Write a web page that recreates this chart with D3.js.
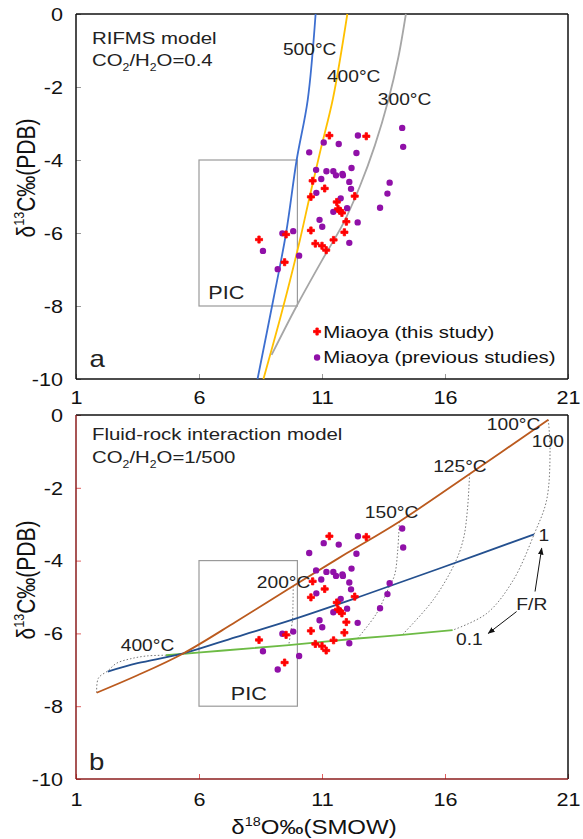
<!DOCTYPE html>
<html>
<head>
<meta charset="utf-8">
<script src="https://cdnjs.cloudflare.com/ajax/libs/d3/7.8.5/d3.min.js"></script>
<style>
  body { margin: 0; background: #fff; }
  svg { display: block; font-family: "Liberation Sans", Arial, sans-serif; }
</style>
</head>
<body>
<div id="chart"></div>
<script>
// Miaoya samples, [d18O, d13C]
const thisStudy = [
    [8.44,-6.18],[9.54,-6.04],[9.48,-6.80],[11.30,-3.33],[12.80,-3.35],[10.62,-4.57],
    [11.11,-4.78],[10.55,-5.01],[12.33,-4.99],[11.60,-5.15],[11.65,-5.34],[11.73,-5.39],
    [11.81,-5.45],[11.99,-5.69],[10.55,-5.93],[11.91,-5.98],[10.73,-6.29],[11.00,-6.35],
    [11.17,-6.47],[11.47,-6.19]
];
const prevStudies = [
    [8.60,-6.49],[9.20,-6.99],[9.39,-6.01],[9.83,-5.95],[10.07,-6.62],[10.48,-3.79],
    [11.07,-3.52],[11.68,-3.56],[12.46,-3.33],[12.40,-3.81],[14.26,-3.12],[14.30,-3.64],
    [10.76,-4.27],[10.97,-4.52],[11.18,-4.31],[11.46,-4.31],[11.57,-4.42],[11.83,-4.38],
    [11.85,-4.42],[12.20,-4.22],[12.11,-4.60],[12.18,-4.79],[10.77,-4.90],[11.76,-5.05],
    [12.02,-5.32],[11.46,-5.42],[10.90,-5.64],[11.01,-5.83],[12.45,-5.71],[12.11,-6.27],
    [13.75,-4.62],[13.66,-4.92],[13.36,-5.31]
];

// (a) RIFMS model curves
const rifms500 = [[8.38,-10],[9.02,-7.83],[9.54,-6.0],[9.97,-4.0],[10.42,-2.35],[10.74,0]];
const rifms400 = [[8.62,-10],[9.29,-8.36],[9.7,-7.3],[10.1,-6.2],[10.5,-5.0],[10.95,-3.7],[11.45,-2.3],[12.03,0]];
const rifms300 = [[8.95,-9.34],[9.97,-8.0],[11.0,-6.75],[11.87,-5.73],[12.54,-4.72],[13.15,-3.6],[13.7,-2.35],[14.1,-1.2],[14.41,0]];

// (b) fluid-rock interaction, F/R = 100, 1, 0.1
const fr100 = [[1.84,-7.63],[3.5,-7.15],[5.36,-6.55],[7.5,-5.68],[9.83,-4.7],[12.0,-3.8],[14.14,-2.93],[17.0,-1.62],[20.2,-0.13]];
const fr1 = [[2.29,-7.05],[3.5,-6.82],[5.36,-6.55],[7.5,-6.1],[9.8,-5.62],[12.5,-5.0],[15.8,-4.21],[19.62,-3.28]];
const fr01 = [[4.66,-6.6],[7.0,-6.47],[9.65,-6.32],[12.44,-6.14],[14.26,-6.04],[16.31,-5.91]];

// isotherms (dotted)
const iso400 = [[1.84,-7.63],[1.91,-7.23],[2.29,-7.03],[2.65,-6.82],[3.2,-6.70],[3.87,-6.62],[4.66,-6.6]];
const iso200 = [[9.83,-4.7],[9.82,-5.2],[9.8,-5.62],[9.72,-6.0],[9.65,-6.32]];
const iso150 = [[14.14,-2.93],[14.08,-3.7],[13.95,-4.4],[13.73,-4.72],[13.22,-5.45],[12.44,-6.14]];
const iso125 = [[17.0,-1.62],[16.91,-2.61],[16.75,-3.4],[16.4,-4.07],[15.52,-5.08],[14.26,-6.04]];
const iso100 = [[20.2,-0.13],[20.27,-0.96],[20.13,-2.34],[19.62,-3.28],[18.78,-4.53],[17.7,-5.45],[16.31,-5.91]];

const xTicks = [1, 6, 11, 16, 21];
const yTicks = [0, -2, -4, -6, -8, -10];

const width = 583, height = 839;
const left = 76, right = 568;

const svg = d3.select("#chart").append("svg")
    .attr("width", width)
    .attr("height", height);

svg.append("defs").append("marker")
    .attr("id", "arrow")
    .attr("viewBox", "0 0 10 10")
    .attr("refX", 9).attr("refY", 5)
    .attr("markerWidth", 7).attr("markerHeight", 7)
    .attr("orient", "auto")
    .append("path").attr("d", "M0,1 L10,5 L0,9 Z").attr("fill", "#111");

const x = d3.scaleLinear().domain([1, 21]).range([left, right]);
const yA = d3.scaleLinear().domain([-10, 0]).range([379, 14]);
const yB = d3.scaleLinear().domain([-10, 0]).range([779, 415]);

// text in the picture is stretched sideways, so every label gets scale(1.2,1)
const SX = 1.2;
function addText(px, py, parts, size, anchor, fill) {
    const t = svg.append("text")
        .attr("transform", `translate(${px},${py + size * 0.35}) scale(${SX},1)`)
        .attr("font-size", size)
        .attr("text-anchor", anchor || "start")
        .attr("fill", fill || "#222");
    addParts(t, parts, size);
    return t;
}
// plain strings, {sub:".."} or {sup:".."}; the shift is undone on the next piece
function addParts(t, parts, size) {
    let back = 0;
    parts.forEach(p => {
        const s = t.append("tspan");
        if (typeof p === "string") {
            s.text(p);
            if (back) s.attr("dy", back);
            back = 0;
        } else {
            const shift = p.sub ? size * 0.3 : -size * 0.42;
            s.attr("font-size", size * 0.6).attr("dy", shift + back).text(p.sub || p.sup);
            back = -shift;
        }
    });
}

const lineGen = (y) => d3.line()
    .x(d => x(d[0]))
    .y(d => y(d[1]))
    .curve(d3.curveCatmullRom);

function drawPanel(y, opt) {
    const g = svg.append("g");
    const top = y(0), bottom = y(-10);

    // ticks
    const xAxis = g.append("g")
        .attr("transform", `translate(0,${bottom})`)
        .call(d3.axisBottom(x).tickValues(xTicks).tickSize(-5).tickFormat(d => String(d)));
    const yAxis = g.append("g")
        .attr("transform", `translate(${left},0)`)
        .call(d3.axisLeft(y).tickValues(yTicks).tickSize(-5).tickFormat(d => String(d)));
    [xAxis, yAxis].forEach(a => {
        a.select(".domain").remove();
        a.selectAll(".tick line").attr("stroke", opt.tickColor).attr("stroke-width", 1);
        a.selectAll("text").attr("font-size", 18).attr("fill", "#111")
            .attr("font-family", "Liberation Sans, Arial, sans-serif");
    });
    xAxis.selectAll("text").attr("y", opt.xLabelOffset).attr("dy", "0.35em")
        .attr("transform", `scale(${SX},1)`);
    yAxis.selectAll("text").attr("x", -13 / SX).attr("dy", "0.35em")
        .attr("transform", `scale(${SX},1)`);

    // frame
    g.append("line").attr("x1", left).attr("x2", right).attr("y1", top).attr("y2", top)
        .attr("stroke", "#111").attr("stroke-width", 1.5);
    g.append("line").attr("x1", right).attr("x2", right).attr("y1", top).attr("y2", bottom)
        .attr("stroke", "#111").attr("stroke-width", 1.5);
    g.append("line").attr("x1", left).attr("x2", right).attr("y1", bottom).attr("y2", bottom)
        .attr("stroke", opt.axisColor).attr("stroke-width", 1.5);
    g.append("line").attr("x1", left).attr("x2", left).attr("y1", top).attr("y2", bottom)
        .attr("stroke", opt.axisColor).attr("stroke-width", 1.5);

    // PIC box
    g.append("rect")
        .attr("x", x(6)).attr("y", y(-4))
        .attr("width", x(10) - x(6)).attr("height", y(-8) - y(-4))
        .attr("fill", "none").attr("stroke", "#9a9a9a").attr("stroke-width", 1.2);

    // y axis title
    const yt = svg.append("text")
        .attr("transform", `translate(26,${opt.yTitle}) scale(${SX},1) rotate(-90)`)
        .attr("font-size", 21)
        .attr("text-anchor", "middle")
        .attr("dy", "0.35em")
        .attr("fill", "#111");
    addParts(yt, ["\u03b4", { sup: "13" }, "C\u2030(PDB)"], 21);
    return g;
}

function drawPoints(g, y) {
    g.selectAll(null).data(prevStudies).enter().append("path")
        .attr("d", d3.symbol(d3.symbolCircle, 32))
        .attr("transform", d => `translate(${x(d[0])},${y(d[1])})`)
        .attr("fill", "#9010a8");
    g.selectAll(null).data(thisStudy).enter().append("path")
        .attr("d", d3.symbol(d3.symbolCross, 28))
        .attr("transform", d => `translate(${x(d[0])},${y(d[1])})`)
        .attr("fill", "#ff0000")
        .attr("stroke", "#ff0000").attr("stroke-width", 0.8).attr("stroke-linejoin", "round");
}

// ---------- panel a ----------
const gA = drawPanel(yA, { tickColor: "#999", axisColor: "#111", xLabelOffset: 19, yTitle: 178 });
[[rifms500, "#3d6fd0"], [rifms400, "#ffc000"], [rifms300, "#a6a6a6"]].forEach(([d, c]) => {
    gA.append("path").datum(d).attr("d", lineGen(yA)).attr("fill", "none")
        .attr("stroke", c).attr("stroke-width", 1.8);
});
drawPoints(gA, yA);

addText(x(1.65), yA(-0.66), ["RIFMS model"], 17);
addText(x(1.65), yA(-1.25), ["CO", { sub: "2" }, "/H", { sub: "2" }, "O=0.4"], 17);
addText(x(9.41), yA(-0.98), ["500\u00b0C"], 16);
addText(x(11.2), yA(-1.70), ["400\u00b0C"], 16);
addText(x(13.27), yA(-2.34), ["300\u00b0C"], 16);
addText(x(6.38), yA(-7.63), ["PIC"], 18);
addText(x(1.55), yA(-9.44), ["a"], 23);

// legend
gA.append("path").attr("d", d3.symbol(d3.symbolCross, 28))
    .attr("transform", `translate(${x(10.8)},${yA(-8.70)})`).attr("fill", "#ff0000")
    .attr("stroke", "#ff0000").attr("stroke-width", 0.8).attr("stroke-linejoin", "round");
gA.append("path").attr("d", d3.symbol(d3.symbolCircle, 32))
    .attr("transform", `translate(${x(10.8)},${yA(-9.41)})`).attr("fill", "#9010a8");
addText(x(11.05), yA(-8.70), ["Miaoya (this study)"], 17, "start", "#111");
addText(x(11.05), yA(-9.41), ["Miaoya (previous studies)"], 17, "start", "#111");

// ---------- panel b ----------
const gB = drawPanel(yB, { tickColor: "#e06060", axisColor: "#8b1c1c", xLabelOffset: 21, yTitle: 580 });
[iso400, iso200, iso150, iso125, iso100].forEach(d => {
    gB.append("path").datum(d).attr("d", lineGen(yB)).attr("fill", "none")
        .attr("stroke", "#777").attr("stroke-width", 1).attr("stroke-dasharray", "1.5,2");
});
[[fr01, "#6dbb45"], [fr1, "#24508f"], [fr100, "#bb5a1e"]].forEach(([d, c]) => {
    gB.append("path").datum(d).attr("d", lineGen(yB)).attr("fill", "none")
        .attr("stroke", c).attr("stroke-width", 1.8);
});
drawPoints(gB, yB);

addText(x(1.65), yB(-0.53), ["Fluid-rock interaction model"], 17);
addText(x(1.65), yB(-1.15), ["CO", { sub: "2" }, "/H", { sub: "2" }, "O=1/500"], 17);
addText(x(17.7), yB(-0.27), ["100\u00b0C"], 16);
addText(x(19.53), yB(-0.73), ["100"], 16);
addText(x(15.52), yB(-1.4), ["125\u00b0C"], 16);
addText(x(12.74), yB(-2.68), ["150\u00b0C"], 16);
addText(x(8.35), yB(-4.59), ["200\u00b0C"], 16);
addText(x(2.82), yB(-6.33), ["400\u00b0C"], 16);
addText(x(19.8), yB(-3.3), ["1"], 16);
addText(x(16.45), yB(-6.16), ["0.1"], 16);
addText(x(18.9), yB(-5.19), ["F/R"], 16);
addText(x(7.29), yB(-7.65), ["PIC"], 18);
addText(x(1.53), yB(-9.52), ["b"], 23);

gB.append("line")
    .attr("x1", x(19.66)).attr("y1", yB(-4.85)).attr("x2", x(19.93)).attr("y2", yB(-3.66))
    .attr("stroke", "#111").attr("stroke-width", 1).attr("marker-end", "url(#arrow)");
gB.append("line")
    .attr("x1", x(18.91)).attr("y1", yB(-5.40)).attr("x2", x(17.76)).attr("y2", yB(-6.0))
    .attr("stroke", "#111").attr("stroke-width", 1).attr("marker-end", "url(#arrow)");

// x axis title
const xt = svg.append("text")
    .attr("transform", `translate(314,${827 + 20 * 0.35}) scale(${SX},1)`)
    .attr("font-size", 20)
    .attr("text-anchor", "middle")
    .attr("fill", "#111");
addParts(xt, ["\u03b4", { sup: "18" }, "O\u2030(SMOW)"], 20);
</script>
</body>
</html>
